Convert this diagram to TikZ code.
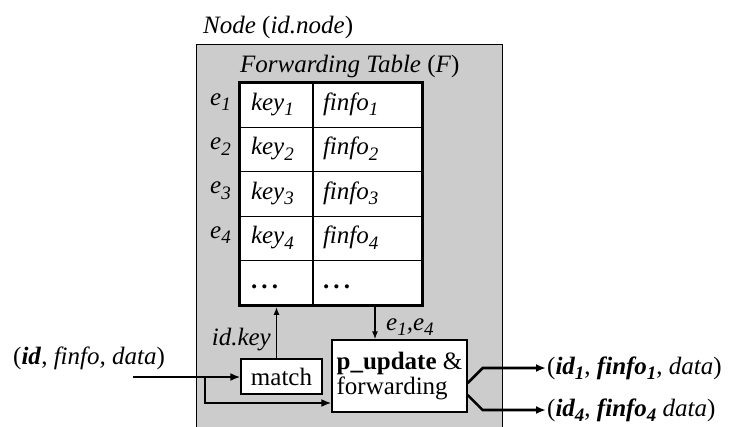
\documentclass[tikz,border=0pt]{standalone}
\usepackage{fontspec}
\setmainfont{Liberation Serif}
\usetikzlibrary{arrows.meta}
\newcommand{\sbx}[1]{\raisebox{-5.5pt}{\fontsize{19}{19}\selectfont #1}}
\tikzset{
  x=1pt, y=-1pt,
  every node/.style={font=\fontsize{25}{26}\selectfont},
  keycell/.style={draw, fill=white, line width=1.3pt, minimum height=44.4pt,
    inner xsep=11pt, inner ysep=0pt, text width=51pt, align=left, font=\fontsize{25}{26}\selectfont\itshape},
  fcell/.style={draw, fill=white, line width=1.3pt, minimum height=44.4pt,
    inner xsep=10pt, inner ysep=0pt, text width=89pt, align=left, font=\fontsize{25}{26}\selectfont\itshape},
  elabel/.style={anchor=east, inner sep=0pt, font=\fontsize{25}{26}\selectfont\itshape},
  procbox/.style={draw, fill=white, line width=1.3pt},
  bigarrow/.style={line width=2.6pt, -{Latex[length=10pt,width=8pt]}},
  thinarrow/.style={line width=1.5pt, -{Latex[length=8pt,width=6pt]}},
}
\begin{document}
\begin{tikzpicture}
\useasboundingbox (0,0) rectangle (736,426);
% outer node box
\node[draw, fill=gray!40, line width=1pt, minimum width=306pt, minimum height=420pt,
      anchor=north west, inner sep=0pt] (nodebox) at (196,44) {};
\node[anchor=base west, inner sep=0pt] (ntitle) at (203,33) {\textit{Node} (\textit{id.node})};
\node[anchor=base west, inner sep=0pt] (ftitle) at (240,72) {\textit{Forwarding Table} (\textit{F})};
% table cells
\foreach \i/\t in {1/1,2/2,3/3,4/4}{
  \node[keycell] (k\i) at (276.5,{83+22.2+44.4*(\i-1)}) {\strut key\sbx{\t}};
  \node[fcell] (f\i) at (367.5,{83+22.2+44.4*(\i-1)}) {\strut finfo\sbx{\t}};
  \node[elabel] (e\i) at (231,{83+19+44.4*(\i-1)}) {e\sbx{\t}};
}
\node[keycell, font=\fontsize{25}{26}\selectfont\bfseries] (k5) at (276.5,{83+22.2+44.4*4}) {\strut.\,.\,.};
\node[fcell, font=\fontsize{25}{26}\selectfont\bfseries] (f5) at (367.5,{83+22.2+44.4*4}) {\strut.\,.\,.};
\draw[line width=3pt] (k1.north west) rectangle (f5.south east);
% processing boxes
\node[procbox, minimum width=81pt, minimum height=35pt, inner sep=0pt] (match) at (281.5,376.5) {match};
\node[procbox, minimum width=135pt, minimum height=72pt, inner xsep=4pt, inner ysep=2pt,
      align=left] (pu) at (399.5,376) {\textbf{p\_update} \&\\[-1pt]forwarding};
% labels
\node[anchor=base east, inner sep=0pt, font=\fontsize{25}{26}\selectfont\itshape] (idkey) at (271,345) {id.key};
\node[anchor=base west, inner sep=0pt, font=\fontsize{25}{26}\selectfont\itshape] (elist) at (386,330) {e\sbx{1},e\sbx{4}};
\node[anchor=base west, inner sep=0pt] (inlabel) at (13,364) {(\textbf{\textit{id}}, \textit{finfo, data})};
\node[anchor=west, inner sep=1pt] (out1) at (546,368) {(\textbf{\textit{id\sbx{1}}}, \textbf{\textit{finfo\sbx{1}}}, \textit{data})};
\node[anchor=west, inner sep=1pt] (out2) at (546,410) {(\textbf{\textit{id\sbx{4}}}, \textbf{\textit{finfo\sbx{4}}} \textit{data})};
% inner arrows
\draw[thinarrow, shorten >=1.2pt] (match.north -| k5.south) -- (k5.south);
\coordinate (dn) at ([xshift=7.5pt,yshift=-1.5pt]f5.south);
\draw[thinarrow] (dn) -- (dn |- pu.north);
% input
\coordinate (in) at (133,377);
\coordinate (br) at (205,377);
\draw[bigarrow] (in) -- (in -| match.west);
\draw[bigarrow] (br) |- ([yshift=-27pt]pu.west);
% outputs
\draw[bigarrow] ([yshift=-7pt]pu.east) -- ++(15,-15) -- (out1.west);
\draw[bigarrow] ([yshift=-19pt]pu.east) -- ++(15,15) -- (out1.west |- out2.west);
\end{tikzpicture}
\end{document}
